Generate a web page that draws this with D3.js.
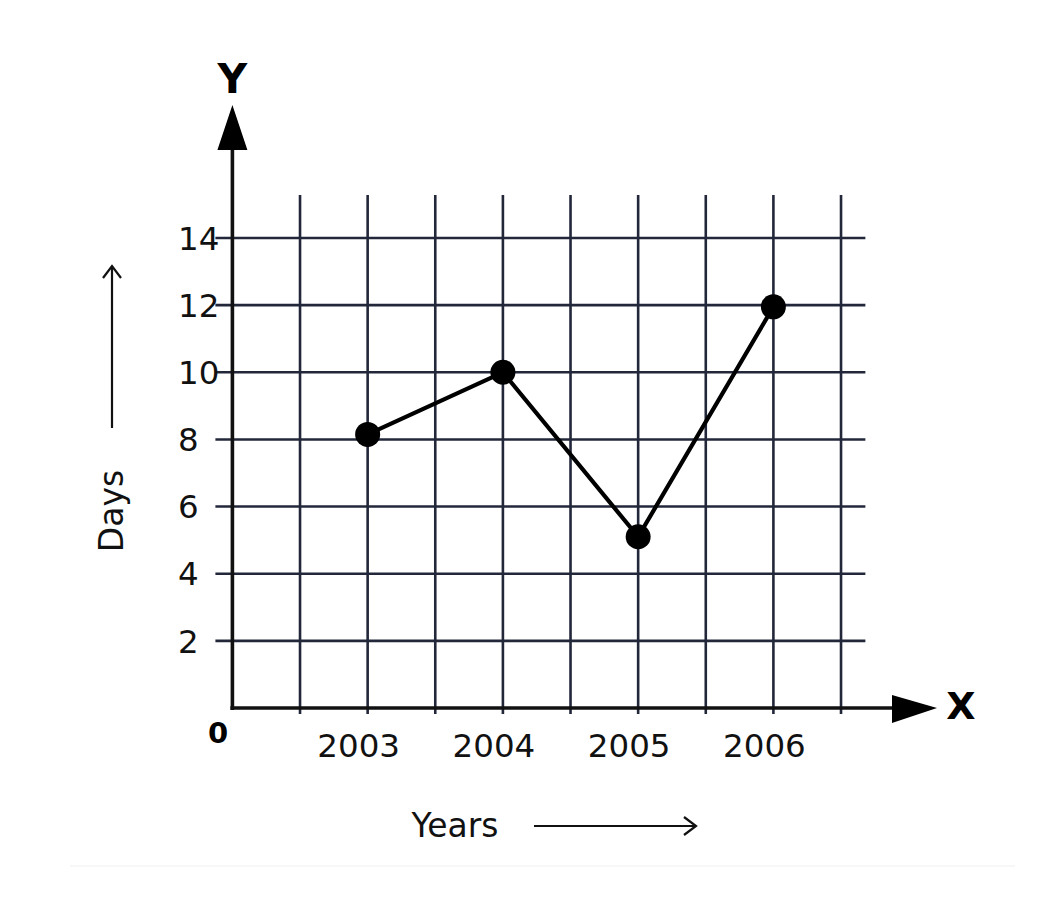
<!DOCTYPE html>
<html>
<head>
<meta charset="utf-8">
<script src="https://cdn.jsdelivr.net/npm/d3@7"></script>
<style>
  html, body { margin: 0; padding: 0; background: #ffffff; }
  svg { display: block; }
  text { font-family: "DejaVu Sans", "Noto Sans", Arial, sans-serif; }
</style>
</head>
<body>
<svg id="chart" width="1045" height="899"></svg>
<script>
// ---- data ----
const years = [2003, 2004, 2005, 2006];
const days = [8.15, 10, 5.1, 11.95];
const yTicks = [2, 4, 6, 8, 10, 12, 14];
const xGridYears = [2002.5, 2003, 2003.5, 2004, 2004.5, 2005, 2005.5, 2006, 2006.5];
const xLabel = "Years";
const yLabel = "Days";

const svg = d3.select("#chart");
const x = d3.scaleLinear().domain([2002, 2007]).range([232.4, 908.65]);
const y = d3.scaleLinear().domain([0, 14]).range([708, 238]);

const gridColor = "#23273a";
const x0 = x(2002), y0 = y(0);
const gridRight = x(2006.68);
const gridTop = y(15.28);

// horizontal grid lines (with small tick stubs to the left of the axis)
svg.append("g").selectAll("line").data(yTicks).join("line")
  .attr("x1", x0 - 17).attr("x2", gridRight)
  .attr("y1", d => y(d)).attr("y2", d => y(d))
  .attr("stroke", gridColor).attr("stroke-width", 2.6);

// vertical grid lines
svg.append("g").selectAll("line").data(xGridYears).join("line")
  .attr("x1", d => x(d)).attr("x2", d => x(d))
  .attr("y1", gridTop).attr("y2", y0 + 6)
  .attr("stroke", gridColor).attr("stroke-width", 2.6);

// axes
svg.append("line").attr("x1", x0).attr("x2", x0).attr("y1", y0 + 2).attr("y2", 140)
  .attr("stroke", "#111").attr("stroke-width", 3.6);
svg.append("line").attr("x1", x0 - 2).attr("x2", 900).attr("y1", y0).attr("y2", y0)
  .attr("stroke", "#111").attr("stroke-width", 3.6);

// arrow heads
svg.append("path").attr("d", `M${x0 - 15},150 L${x0},105 L${x0 + 15},150 Z`).attr("fill", "#000");
svg.append("path").attr("d", `M892,${y0 - 13} L937,${y0} L892,${y0 + 15} Z`).attr("fill", "#000");

// axis letters
svg.append("text").attr("x", x0).attr("y", 93).attr("text-anchor", "middle")
  .attr("font-size", 41).attr("font-weight", 700).attr("font-family", "Liberation Sans, Arial, sans-serif").text("Y");
svg.append("text").attr("x", 961).attr("y", 719).attr("text-anchor", "middle")
  .attr("font-size", 38).attr("font-weight", 700).attr("font-family", "Liberation Sans, Arial, sans-serif").text("X");
svg.append("text").attr("x", 218).attr("y", 743).attr("text-anchor", "middle")
  .attr("font-size", 29).attr("font-weight", 700).text("0");

// y tick labels
svg.append("g").selectAll("text").data(yTicks).join("text")
  .attr("x", 178).attr("y", d => y(d)).attr("dy", "0.36em")
  .attr("text-anchor", "start").attr("font-size", 32.5).attr("fill", "#111")
  .text(d => d);

// x tick labels
svg.append("g").selectAll("text").data(years).join("text")
  .attr("x", d => x(d) - 9).attr("y", 757)
  .attr("text-anchor", "middle").attr("font-size", 32.5).attr("fill", "#111")
  .text(d => d);

// axis titles with arrows
svg.append("text").attr("x", 455).attr("y", 837).attr("text-anchor", "middle")
  .attr("font-size", 33).attr("fill", "#111").text(xLabel);
svg.append("line").attr("x1", 534).attr("x2", 696).attr("y1", 826).attr("y2", 826)
  .attr("stroke", "#111").attr("stroke-width", 2.2);
svg.append("path").attr("d", "M684,817 L696,826 L684,835").attr("fill", "none")
  .attr("stroke", "#111").attr("stroke-width", 2.2);

svg.append("text").attr("transform", "translate(123,511) rotate(-90)")
  .attr("text-anchor", "middle").attr("font-size", 33).attr("fill", "#111").text(yLabel);
svg.append("line").attr("x1", 112).attr("x2", 112).attr("y1", 266).attr("y2", 428)
  .attr("stroke", "#111").attr("stroke-width", 2.2);
svg.append("path").attr("d", "M103,278 L112,266 L121,278").attr("fill", "none")
  .attr("stroke", "#111").attr("stroke-width", 2.2);

// data line and points
const line = d3.line().x((d, i) => x(years[i])).y(d => y(d));
svg.append("path").datum(days).attr("d", line).attr("fill", "none")
  .attr("stroke", "#000").attr("stroke-width", 4.2).attr("stroke-linejoin", "round");
svg.append("g").selectAll("circle").data(days).join("circle")
  .attr("cx", (d, i) => x(years[i])).attr("cy", d => y(d)).attr("r", 12.5).attr("fill", "#000");

// faint baseline near bottom
svg.append("line").attr("x1", 70).attr("x2", 1015).attr("y1", 866).attr("y2", 866)
  .attr("stroke", "#f4f4f4").attr("stroke-width", 1.5);
</script>
</body>
</html>
